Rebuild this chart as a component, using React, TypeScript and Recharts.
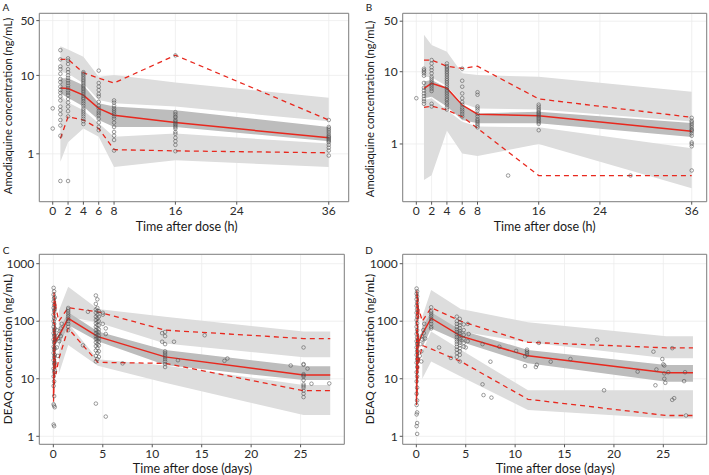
import React from 'react';
import {
  ComposedChart,
  Area,
  Line,
  Scatter,
  XAxis,
  YAxis,
  CartesianGrid,
  ReferenceArea,
} from 'recharts';

// ---------- Panel A: amodiaquine, model 1 (time in hours) ----------
const binsA = [1, 2, 4, 6, 8, 16, 36];
const medA = [6.9, 6.8, 5.6, 3.8, 3.1, 2.5, 1.6];
const p95A = [16, 16, 10.8, 9.2, 8.0, 18.1, 2.7];
const p05A = [1.57, 2.96, 2.7, 2.1, 1.13, 1.09, 1.03];
const upHiA = [23.6, 21.4, 17.3, 9.6, 10.1, 8.1, 5.2];
const upLoA = [11.1, 10.6, 7.9, 4.85, 4.4, 4.0, 2.6];
const mdHiA = [9.2, 9.2, 7.5, 4.4, 4.0, 3.6, 2.2];
const mdLoA = [5.9, 5.2, 4.0, 2.7, 2.2, 2.2, 1.45];
const loHiA = [5.6, 4.5, 3.6, 2.45, 1.65, 1.82, 1.35];
const loLoA = [0.79, 1.4, 2.1, 1.65, 0.68, 0.83, 0.68];
const obsA: [number, number[]][] = [
  [0, [3.8, 2.1]],
  [1, [21, 16, 13, 12, 10.5, 9, 8.2, 7.2, 6.5, 6, 5.4, 4.8, 4, 3.6, 3.2, 2.7, 2.3, 1.7, 0.45]],
  [2, [16.5, 15.5, 14, 12, 11, 10, 9.3, 8.6, 8, 7.4, 6.9, 6.4, 6, 5.6, 5, 4.5, 4, 3.5, 3, 0.45]],
  [4, [11, 10.6, 10.2, 9.7, 9.2, 8.8, 8.4, 8, 7.6, 7.3, 7, 6.7, 6.4, 6.1, 5.8, 5.5, 5.2, 5, 4.7, 4.4, 4.1, 3.8, 3.6, 3.4, 3.2, 3, 2.8, 2.6, 2.4]],
  [6, [11.5, 8, 7.2, 6.5, 5.8, 5.4, 4.6, 4.1, 3.8, 3.5, 3.3, 3.1, 2.8, 2.5, 2.2, 2.0]],
  [8, [4.8, 4.5, 4.1, 3.8, 3.6, 3.4, 3.2, 3.0, 2.8, 2.5, 2.2, 1.9, 1.7, 1.5, 1.1]],
  [16, [18, 3.4, 3.2, 3.0, 2.9, 2.7, 2.6, 2.5, 2.4, 2.3, 2.2, 2.1, 1.9, 1.8, 1.6, 1.45, 1.3, 1.08]],
  [36, [2.7, 2.2, 2.1, 2.0, 1.9, 1.8, 1.7, 1.65, 1.6, 1.55, 1.5, 1.45, 1.4, 1.3, 1.2, 1.1, 0.95]],
];

// ---------- Panel B: amodiaquine, model 2 (time in hours) ----------
const binsB = [1, 2, 4, 6, 8, 16, 36];
const medB = [5.9, 6.9, 5.9, 3.46, 2.58, 2.46, 1.5];
const p95B = [14.5, 14.5, 11.9, 11.1, 11.9, 4.2, 2.34];
const p05B = [3.2, 3.35, 2.95, 2.38, 1.65, 0.366, 0.366];
const upHiB = [32.4, 23.4, 18.9, 9.5, 9.0, 8.5, 5.3];
const upLoB = [8.5, 8.4, 6.3, 3.65, 3.1, 3.0, 2.05];
const mdHiB = [7.3, 7.7, 6.0, 3.46, 2.65, 2.8, 1.95];
const mdLoB = [4.3, 4.5, 3.3, 2.15, 1.93, 1.93, 1.25];
const loHiB = [4.06, 4.3, 2.95, 2.03, 1.74, 1.7, 0.87];
const loLoB = [0.317, 0.37, 1.52, 0.74, 0.68, 1.0, 0.244];
const obsB: [number, number[]][] = [
  [0, [4.3]],
  [1, [11, 10.5, 10, 9.5, 8.8, 7, 6, 5.5, 5, 4.6, 4.2, 3.9, 3.6]],
  [2, [14.5, 13, 11.5, 10.5, 9.5, 8.5, 8, 7.5, 7, 6.6, 6.2, 5.8, 5.4, 3.6, 3.3]],
  [4, [13, 12, 11.5, 11, 10.5, 10, 9.5, 9, 8.5, 8, 7.6, 7.2, 6.8, 6.4, 6, 5.7, 5.4, 5.1, 4.8, 4.5, 4.2, 4, 3.7, 3.5, 3.2, 3]],
  [6, [11, 7.5, 6.2, 5, 4.3, 3.8, 3.5, 3.2, 3, 2.8, 2.6, 2.4]],
  [8, [5.2, 4.8, 3.3, 3.1, 2.9, 2.6, 2.4, 2.2, 2.1, 2.0, 1.9, 1.8, 1.7]],
  [12, [0.366]],
  [16, [3.5, 3.3, 3.1, 2.95, 2.8, 2.7, 2.6, 2.5, 2.4, 2.3, 2.2, 2.1, 2.0, 1.9, 1.55]],
  [28, [0.366]],
  [36, [2.3, 2.1, 2.0, 1.9, 1.8, 1.7, 1.6, 1.55, 1.5, 1.4, 1.3, 1.05, 1.0, 0.93, 0.43]],
];

// ---------- Panel C: DEAQ, model 1 (time in days) ----------
const binsC = [0.02, 0.05, 0.08, 0.11, 0.14, 0.18, 0.22, 0.27, 0.55, 1.5, 4.5, 11.3, 25.3, 28];
const medC = [4.9, 30, 70, 22, 95, 40, 60, 45, 55, 112, 54, 24, 11.6, 11.6];
const p95C = [30, 220, 320, 110, 260, 150, 230, 170, 100, 172, 146, 70, 50, 50];
const p05C = [4, 10, 25, 8, 40, 15, 22, 12, 22, 75, 19.3, 18.5, 6.2, 6.2];
const bandBinsC = [0.55, 1.5, 4.5, 11.3, 25.3, 28];
const upHiC = [150, 398, 163, 120, 66, 66];
const upLoC = [50, 120, 95, 41, 23.6, 23.6];
const mdHiC = [70, 143, 66, 31.6, 16.5, 16.5];
const mdLoC = [35, 86, 45, 17.3, 9.5, 9.5];
const loHiC = [30, 92, 21.9, 17, 7.8, 7.8];
const loLoC = [12, 38.5, 16.9, 8.5, 2.34, 2.34];
const obsC: [number, number[]][] = [
  [0.03, [380, 290, 220, 170, 130, 100, 80, 62, 48, 36, 28, 21, 15, 11, 7.5, 3.6, 1.6]],
  [0.08, [330, 250, 190, 150, 115, 90, 70, 55, 42, 32, 24, 18, 13, 9, 5, 3.4, 1.5]],
  [0.14, [260, 160, 110, 75, 58, 44, 34, 26, 19, 14, 3.2]],
  [0.35, [35, 70]],
  [0.45, [50, 25]],
  [0.6, [60, 45]],
  [0.75, [75, 55]],
  [0.85, [90]],
  [1.5, [170, 160, 150, 140, 130, 120, 110, 100, 90, 80, 70]],
  [4.3, [280, 200, 160, 140, 120, 105, 92, 80, 70, 62, 55, 49, 43, 37, 31, 25, 20, 3.7]],
  [4.45, [240, 170, 150, 130, 112, 98, 86, 75, 66, 58, 52, 46, 40, 34, 28, 22]],
  [4.6, [150, 120, 100, 85, 72, 64, 56, 50, 44, 38, 30, 24]],
  [5.0, [140, 130, 90]],
  [5.3, [75, 60, 2.2]],
  [3.0, [38]],
  [3.5, [146]],
  [7.0, [18.5]],
  [11.0, [44, 62]],
  [11.3, [65, 55, 40, 30, 28, 26, 24, 22, 20, 18, 16]],
  [12.2, [44]],
  [12.6, [21]],
  [15.3, [57]],
  [17.3, [20.5]],
  [17.6, [22.5]],
  [24.0, [17]],
  [25.3, [35, 18, 17.5, 12, 11.5, 11, 9.5, 8, 7.5, 7, 6.2, 5.5, 4.8]],
  [25.7, [15]],
  [26.1, [8.2]],
  [27.9, [8.3]],
];

// ---------- Panel D: DEAQ, model 2 (time in days) ----------
const binsD = [0.02, 0.05, 0.08, 0.11, 0.14, 0.18, 0.22, 0.27, 0.6, 1.5, 4.5, 11.3, 25.3, 28];
const medD = [4, 40, 15, 90, 25, 60, 35, 45, 60, 113, 55, 25, 12.7, 12.7];
const p95D = [20, 350, 90, 300, 130, 250, 110, 160, 100, 172, 100, 43, 34.5, 34.5];
const p05D = [3.5, 8, 5, 20, 10, 30, 15, 20, 38, 33, 20, 4.4, 2.3, 2.3];
const bandBinsD = [0.6, 1.5, 4.5, 11.3, 25.3, 28];
const upHiD = [120, 349, 163, 96, 55, 55];
const upLoD = [45, 110, 66, 43, 22.7, 22.7];
const mdHiD = [80, 143, 70, 31.6, 17.3, 17.3];
const mdLoD = [35, 75, 44, 18.6, 8.9, 8.9];
const loHiD = [30, 66, 32, 6.3, 6.3, 6.3];
const loLoD = [10, 19.9, 11, 2.86, 2.04, 2.04];
const obsD: [number, number[]][] = [
  [0.03, [370, 300, 240, 185, 140, 105, 80, 60, 45, 35, 26, 19, 13, 9, 5.5, 3.5, 2.4, 1.5]],
  [0.08, [330, 270, 210, 160, 120, 92, 70, 52, 40, 30, 22, 16, 11, 7, 4.2, 2.6, 1.7, 1.1]],
  [0.35, [25]],
  [0.4, [40]],
  [0.5, [30, 20]],
  [0.55, [55]],
  [0.6, [48]],
  [0.7, [70]],
  [0.75, [62]],
  [0.8, [90]],
  [0.9, [50]],
  [1.5, [175, 150, 140, 130, 120, 110, 100, 90, 80, 75]],
  [4.1, [120, 100, 90, 80, 72, 65, 59, 53, 48, 44, 40, 36, 32, 28, 24]],
  [4.4, [110, 95, 85, 76, 68, 62, 56, 50, 46, 42, 38, 34, 30, 26, 20]],
  [4.8, [88, 70, 58, 50, 42, 36]],
  [5.0, [35]],
  [5.2, [90, 45]],
  [5.3, [60]],
  [2.3, [35]],
  [3.5, [23]],
  [6.7, [40, 8]],
  [6.8, [5.2]],
  [7.5, [19.8]],
  [7.6, [4.7]],
  [8.4, [36]],
  [10.1, [30.5]],
  [11.0, [24.5, 16.6]],
  [11.2, [32, 30, 28, 26]],
  [12.1, [16]],
  [12.2, [17.5]],
  [12.4, [42]],
  [13.6, [19.8]],
  [15.6, [22]],
  [18.3, [48]],
  [19.0, [6.3]],
  [22.4, [13.3]],
  [24.0, [29.6]],
  [24.2, [7.7]],
  [24.3, [14.5]],
  [24.9, [22]],
  [25.0, [17.8]],
  [25.1, [17, 12.4, 10]],
  [25.2, [8.5]],
  [25.5, [13]],
  [25.9, [34, 4.3]],
  [26.1, [4.6]],
  [27.1, [9.1]],
  [27.2, [13]],
  [27.3, [2.3]],
];

// ---------- Axis ticks and labels ----------
const hourTicks = [0, 2, 4, 6, 8, 16, 24, 36];
const dayTicks = [0, 5, 10, 15, 20, 25];
const amqTicks = [1, 10, 50];
const deaqTicks = [1, 10, 100, 1000];
const hourTitle = 'Time after dose (h)';
const dayTitle = 'Time after dose (days)';
const amqTitle = 'Amodiaquine concentration (ng/mL)';
const deaqTitle = 'DEAQ concentration (ng/mL)';

const FONT = 'Lato, "Open Sans", "Liberation Sans", sans-serif';
const RED = '#e8281e';
const LIGHT = '#dddddd';
const DARK = '#bdbdbd';

type Row = {
  x: number;
  med?: number;
  p95?: number;
  p05?: number;
  up?: [number, number];
  md?: [number, number];
  lo?: [number, number];
};

function buildRows(
  lineBins: number[],
  med: number[],
  p95: number[],
  p05: number[],
  bandBins: number[],
  upLo: number[],
  upHi: number[],
  mdLo: number[],
  mdHi: number[],
  loLo: number[],
  loHi: number[]
): Row[] {
  const map = new Map<number, Row>();
  const get = (x: number) => {
    if (!map.has(x)) map.set(x, { x });
    return map.get(x) as Row;
  };
  lineBins.forEach((x, i) => {
    const r = get(x);
    r.med = med[i];
    r.p95 = p95[i];
    r.p05 = p05[i];
  });
  bandBins.forEach((x, i) => {
    const r = get(x);
    r.up = [upLo[i], upHi[i]];
    r.md = [mdLo[i], mdHi[i]];
    r.lo = [loLo[i], loHi[i]];
  });
  return Array.from(map.values()).sort((a, b) => a.x - b.x);
}

function flattenObs(obs: [number, number[]][]) {
  const pts: { x: number; y: number }[] = [];
  obs.forEach(([t, vals]) => vals.forEach((v) => pts.push({ x: t, y: v })));
  return pts;
}

const HollowDot = (props: any) => {
  const { cx, cy } = props;
  if (cx == null || cy == null) return null;
  return (
    <circle cx={cx} cy={cy} r={1.8} fill="none" stroke="#505050" strokeOpacity={0.7} strokeWidth={0.8} />
  );
};

type PanelProps = {
  left: number;
  top: number;
  width: number;
  height: number;
  yAxisWidth: number;
  xAxisHeight: number;
  marginTop: number;
  marginRight: number;
  xDomain: [number, number];
  yDomain: [number, number];
  xTicks: number[];
  yTicks: number[];
  rows: Row[];
  points: { x: number; y: number }[];
};

function Panel(p: PanelProps) {
  const tickStyle = { fill: '#2b2b2b', fontSize: 12, fontFamily: FONT };
  return (
    <div style={{ position: 'absolute', left: p.left, top: p.top, width: p.width, height: p.height }}>
      <ComposedChart
        width={p.width}
        height={p.height}
        data={p.rows}
        margin={{ top: p.marginTop, right: p.marginRight, left: 0, bottom: 0 }}
      >
        <CartesianGrid stroke="#ececec" strokeWidth={0.8} />
        <XAxis
          dataKey="x"
          type="number"
          domain={p.xDomain}
          ticks={p.xTicks}
          allowDataOverflow
          height={p.xAxisHeight}
          axisLine={false}
          tickSize={3}
          tickMargin={2}
          tickLine={{ stroke: '#555555' }}
          tick={tickStyle}
          interval={0}
        />
        <YAxis
          type="number"
          scale="log"
          domain={p.yDomain}
          ticks={p.yTicks}
          allowDataOverflow
          width={p.yAxisWidth}
          axisLine={false}
          tickSize={3}
          tickMargin={2}
          tickLine={{ stroke: '#555555' }}
          tick={tickStyle}
          interval={0}
        />
        <Area dataKey="up" type="linear" stroke="none" fill={LIGHT} fillOpacity={1} isAnimationActive={false} />
        <Area dataKey="lo" type="linear" stroke="none" fill={LIGHT} fillOpacity={1} isAnimationActive={false} />
        <Area dataKey="md" type="linear" stroke="none" fill={DARK} fillOpacity={1} isAnimationActive={false} />
        <Scatter data={p.points} dataKey="y" shape={HollowDot} isAnimationActive={false} />
        <Line dataKey="p95" type="linear" stroke={RED} strokeWidth={1.3} strokeDasharray="5 4" dot={false} connectNulls isAnimationActive={false} />
        <Line dataKey="p05" type="linear" stroke={RED} strokeWidth={1.3} strokeDasharray="5 4" dot={false} connectNulls isAnimationActive={false} />
        <Line dataKey="med" type="linear" stroke={RED} strokeWidth={1.5} dot={false} connectNulls isAnimationActive={false} />
        <ReferenceArea
          x1={p.xDomain[0]}
          x2={p.xDomain[1]}
          y1={p.yDomain[0]}
          y2={p.yDomain[1]}
          fill="none"
          stroke="#808080"
          strokeWidth={1}
          ifOverflow="visible"
        />
      </ComposedChart>
    </div>
  );
}

const textBase: React.CSSProperties = {
  position: 'absolute',
  fontFamily: FONT,
  color: '#1a1a1a',
  whiteSpace: 'nowrap',
  lineHeight: 1,
};

function Title({ x, y, text, rotate, size }: { x: number; y: number; text: string; rotate?: boolean; size?: number }) {
  return (
    <div
      style={{
        ...textBase,
        left: x,
        top: y,
        fontSize: size ?? 12.5,
        transform: `translate(-50%, -50%)${rotate ? ' rotate(-90deg)' : ''}`,
      }}
    >
      {text}
    </div>
  );
}

const rowsA = buildRows(binsA, medA, p95A, p05A, binsA, upLoA, upHiA, mdLoA, mdHiA, loLoA, loHiA);
const rowsB = buildRows(binsB, medB, p95B, p05B, binsB, upLoB, upHiB, mdLoB, mdHiB, loLoB, loHiB);
const rowsC = buildRows(binsC, medC, p95C, p05C, bandBinsC, upLoC, upHiC, mdLoC, mdHiC, loLoC, loHiC);
const rowsD = buildRows(binsD, medD, p95D, p05D, bandBinsD, upLoD, upHiD, mdLoD, mdHiD, loLoD, loHiD);

export default function App() {
  return (
    <div style={{ position: 'absolute', left: 0, top: 0, width: 709, height: 475, background: '#ffffff', overflow: 'hidden' }}>
      <Panel
        left={0}
        top={0}
        width={354}
        height={235}
        yAxisWidth={39.3}
        xAxisHeight={33.3}
        marginTop={13.3}
        marginRight={5.3}
        xDomain={[-1.75, 38.6]}
        yDomain={[0.245, 62]}
        xTicks={hourTicks}
        yTicks={amqTicks}
        rows={rowsA}
        points={flattenObs(obsA)}
      />
      <Panel
        left={354}
        top={0}
        width={355}
        height={235}
        yAxisWidth={48.7}
        xAxisHeight={33.3}
        marginTop={13.3}
        marginRight={2.3}
        xDomain={[-1.78, 37.96]}
        yDomain={[0.159, 64.3]}
        xTicks={hourTicks}
        yTicks={amqTicks}
        rows={rowsB}
        points={flattenObs(obsB)}
      />
      <Panel
        left={0}
        top={235}
        width={354}
        height={240}
        yAxisWidth={39.3}
        xAxisHeight={30.7}
        marginTop={19.3}
        marginRight={9.7}
        xDomain={[-1.42, 29.42]}
        yDomain={[0.726, 1456]}
        xTicks={dayTicks}
        yTicks={deaqTicks}
        rows={rowsC}
        points={flattenObs(obsC)}
      />
      <Panel
        left={354}
        top={235}
        width={355}
        height={240}
        yAxisWidth={48.7}
        xAxisHeight={30.7}
        marginTop={19.3}
        marginRight={2.3}
        xDomain={[-1.38, 29.39]}
        yDomain={[0.726, 1456]}
        xTicks={dayTicks}
        yTicks={deaqTicks}
        rows={rowsD}
        points={flattenObs(obsD)}
      />

      <Title x={6} y={7} text="A" size={10} />
      <Title x={369} y={7} text="B" size={10} />
      <Title x={6} y={250} text="C" size={10} />
      <Title x={369} y={250} text="D" size={10} />

      <Title x={186.7} y={227} text={hourTitle} />
      <Title x={544.7} y={227} text={hourTitle} />
      <Title x={192.5} y={469} text={dayTitle} />
      <Title x={555.3} y={469} text={dayTitle} />

      <Title x={7.5} y={106} text={amqTitle} rotate size={11.2} />
      <Title x={370} y={109} text={amqTitle} rotate size={11.2} />
      <Title x={7.5} y={349} text={deaqTitle} rotate size={11.8} />
      <Title x={370} y={349} text={deaqTitle} rotate size={11.8} />
    </div>
  );
}
